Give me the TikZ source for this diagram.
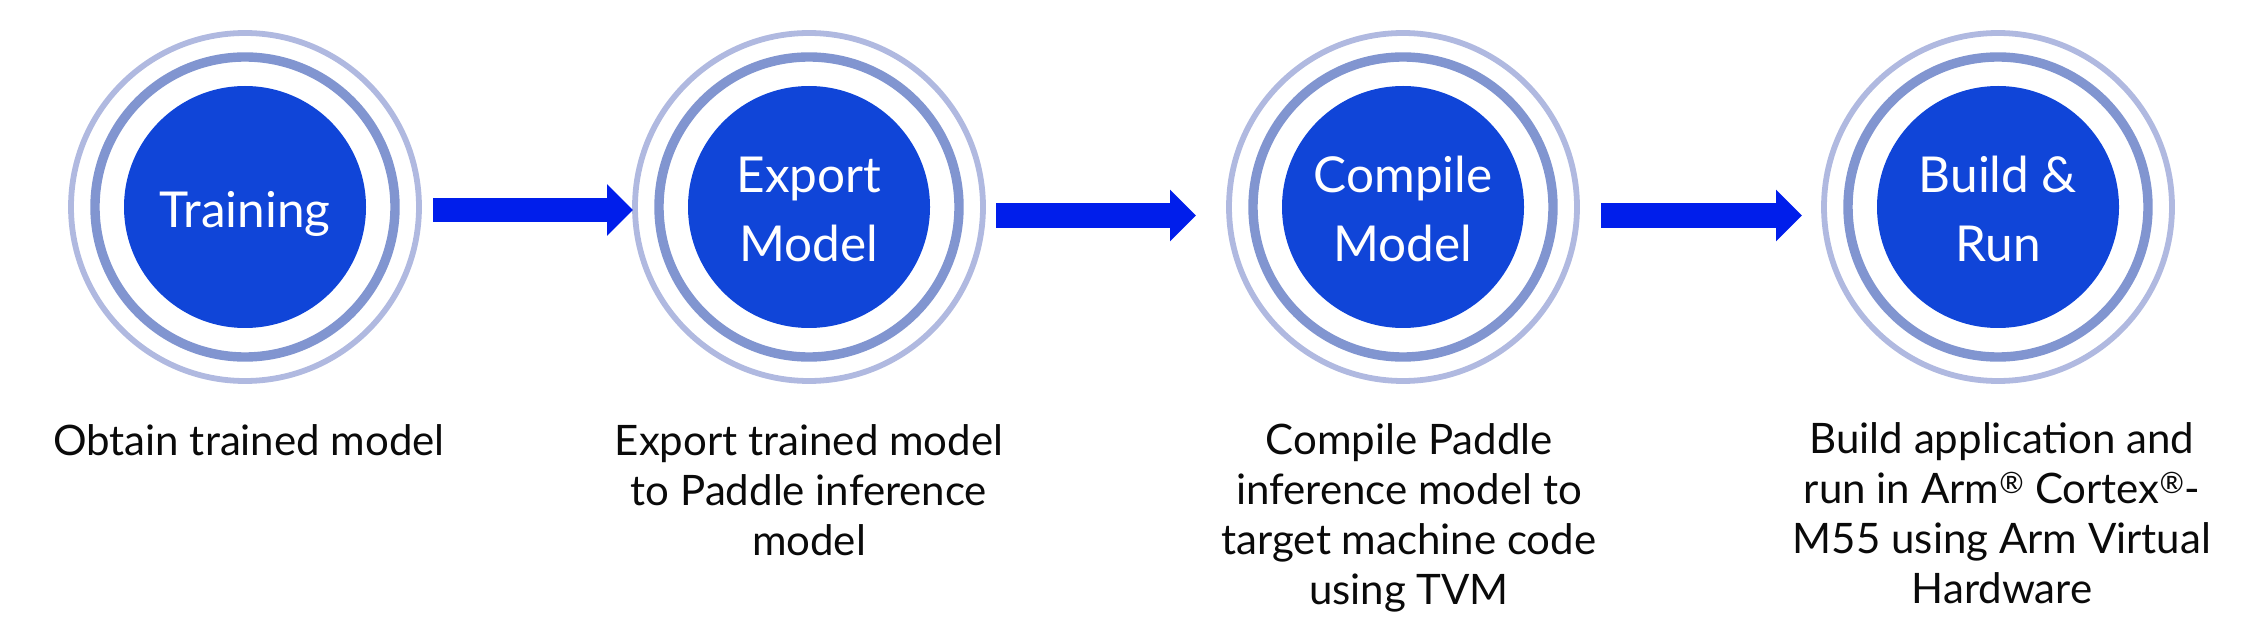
\documentclass[tikz,border=0pt]{standalone}
\usepackage{fontspec}
\setmainfont{Lato}
\usetikzlibrary{arrows.meta}
\definecolor{discblue}{HTML}{1045D8}
\definecolor{ringmid}{HTML}{8195D0}
\definecolor{ringout}{HTML}{B0B9E0}
\definecolor{arrowblue}{HTML}{001EEB}
\definecolor{labelblack}{HTML}{0A0A0A}
\tikzset{
  disc/.style={circle, fill=discblue, draw=none, minimum size=242pt, inner sep=0pt},
  ringA/.style={draw=ringmid, line width=9.4pt},
  ringB/.style={draw=ringout, line width=5.8pt},
  disctext/.style={anchor=base, inner sep=0pt, text=white, font=\fontsize{49.5}{69}\selectfont},
  labeltext/.style={anchor=base, inner sep=0pt, text=labelblack, font=\fontsize{42}{50}\selectfont},
  blockarrow/.style={draw=arrowblue, line width=24.6pt, line cap=butt, -{Triangle[length=26pt, width=50pt]}},
}
\newcommand{\mylines}[1]{\begin{tabular}[t]{@{}c@{}}#1\end{tabular}}
\begin{document}
\begin{tikzpicture}[x=1pt, y=-1pt]
\useasboundingbox (0,0) rectangle (2268,636);
% circles
\foreach \n/\cx in {1/245, 2/809, 3/1403, 4/1998} {
  \node[disc] (c\n) at (\cx,207) {};
  \draw[ringA] (c\n.center) circle[radius=150pt];
  \draw[ringB] (c\n.center) circle[radius=174pt];
}
% circle texts
\node[disctext] (t1) at (245,228) {Training};
\node[disctext] (t2) at (809,193) {\mylines{Export\\Model}};
\node[disctext] (t3) at (1403,193) {\mylines{Compile\\Model}};
\node[disctext] (t4) at (1998,193) {\mylines{Build \&\\Run}};
% arrows
\coordinate (a1s) at (433,210);
\coordinate (a1e) at (633,210);
\coordinate (a2s) at (996,215.5);
\coordinate (a2e) at (1196,215.5);
\coordinate (a3s) at (1601,215.5);
\coordinate (a3e) at (1802,215.5);
\draw[blockarrow] (a1s) -- (a1e);
\draw[blockarrow] (a2s) -- (a2e);
\draw[blockarrow] (a3s) -- (a3e);
% labels
\node[labeltext] (l1) at (249,455) {\mylines{Obtain trained model}};
\node[labeltext] (l2) at (809,455) {\mylines{Export trained model\\to Paddle inference\\model}};
\node[labeltext] (l3) at (1409,454) {\mylines{Compile Paddle\\inference model to\\target machine code\\using TVM}};
\node[labeltext] (l4) at (2002,453) {\mylines{Build application and\\run in Arm\textsuperscript{®} Cortex\textsuperscript{®}-\\M55 using Arm Virtual\\Hardware}};
\end{tikzpicture}
\end{document}
